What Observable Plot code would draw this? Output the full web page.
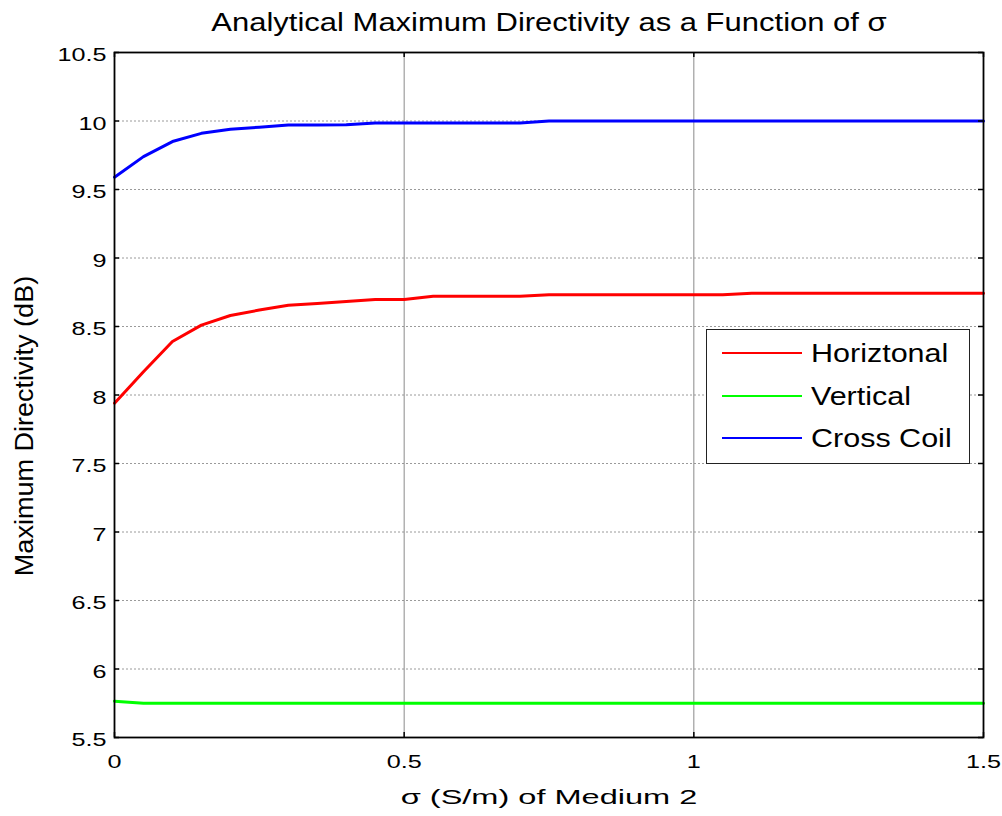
<!DOCTYPE html>
<html>
<head>
<meta charset="utf-8">
<script src="https://cdn.jsdelivr.net/npm/d3@7"></script>
<script src="https://cdn.jsdelivr.net/npm/@observablehq/plot@0.6"></script>
<style>
  html, body { margin: 0; padding: 0; background: #fff; }
  #wrap { position: relative; width: 1002px; height: 816px; font-family: "Liberation Sans", Arial, sans-serif; }
  #legend { position: absolute; left: 706px; top: 329px; width: 264px; height: 135px; box-sizing: border-box;
            border: 1.5px solid #222; background: #fff; }
  #legend .row { position: absolute; left: 0; width: 100%; height: 0; }
  #legend svg { position: absolute; left: 14px; top: -2px; }
  #legend span { position: absolute; left: 104px; top: 0; font-size: 25px; line-height: 25px; color: #000;
                 transform: translateY(-50%) scaleX(1.22); transform-origin: left center; white-space: nowrap; }
</style>
</head>
<body>
<div id="wrap"></div>
<script>
// ---- data ----
const sigma = [0, 0.05, 0.1, 0.15, 0.2, 0.25, 0.3, 0.35, 0.4, 0.45, 0.5, 0.55, 0.6, 0.65, 0.7, 0.75,
               0.8, 0.85, 0.9, 0.95, 1.0, 1.05, 1.1, 1.15, 1.2, 1.25, 1.3, 1.35, 1.4, 1.45, 1.5];
const horizontal = [7.94, 8.17, 8.39, 8.51, 8.58, 8.62, 8.655, 8.668, 8.683, 8.697, 8.697, 8.72, 8.72, 8.72, 8.72, 8.732,
                    8.732, 8.732, 8.732, 8.732, 8.732, 8.732, 8.743, 8.743, 8.743, 8.743, 8.743, 8.743, 8.743, 8.743, 8.743];
const vertical = [5.765, 5.75, 5.75, 5.75, 5.75, 5.75, 5.75, 5.75, 5.75, 5.75, 5.75, 5.75, 5.75, 5.75, 5.75, 5.75,
                  5.75, 5.75, 5.75, 5.75, 5.75, 5.75, 5.75, 5.75, 5.75, 5.75, 5.75, 5.75, 5.75, 5.75, 5.75];
const crossCoil = [9.59, 9.74, 9.85, 9.91, 9.94, 9.955, 9.97, 9.97, 9.972, 9.985, 9.985, 9.985, 9.985, 9.985, 9.985, 10.0,
                   10.0, 10.0, 10.0, 10.0, 10.0, 10.0, 10.0, 10.0, 10.0, 10.0, 10.0, 10.0, 10.0, 10.0, 10.0];
const seriesNames = ["Horiztonal", "Vertical", "Cross Coil"];
const seriesColors = ["#ff0000", "#00ff00", "#0000ff"];
const xTicks = [0, 0.5, 1, 1.5];
const yTicks = [5.5, 6, 6.5, 7, 7.5, 8, 8.5, 9, 9.5, 10, 10.5];
const xGrid = [0.5, 1];
const yGrid = [6, 6.5, 7, 7.5, 8, 8.5, 9, 9.5, 10];
const titleText = "Analytical Maximum Directivity as a Function of σ";
const xLabel = "σ (S/m) of Medium 2";
const yLabel = "Maximum Directivity (dB)";

// ---- layout ----
const W = 1002, H = 816, mL = 114, mR = 19, mT = 52, mB = 79;
const frameW = W - mL - mR, frameH = H - mT - mB;
const tickLen = 5;

const seriesValues = [horizontal, vertical, crossCoil];
const rows = [];
seriesNames.forEach((name, i) => {
  sigma.forEach((s, j) => rows.push({series: name, sigma: s, value: seriesValues[i][j]}));
});

const chart = Plot.plot({
  width: W, height: H,
  marginLeft: mL, marginRight: mR, marginTop: mT, marginBottom: mB,
  style: {fontFamily: "'Liberation Sans', Arial, sans-serif", background: "#fff", color: "#000"},
  x: {domain: [0, 1.5]},
  y: {domain: [5.5, 10.5]},
  color: {domain: seriesNames, range: seriesColors},
  marks: [
    Plot.gridY(yGrid, {stroke: "#9a9a9a", strokeOpacity: 1, strokeDasharray: "2,2", strokeWidth: 1}),
    Plot.gridX(xGrid, {stroke: "#8a8a8a", strokeOpacity: 1, strokeWidth: 1}),
    Plot.line(rows, {x: "sigma", y: "value", z: "series", stroke: "series", strokeWidth: 3}),
    Plot.tickX(xTicks, {x: d => d, insetTop: frameH - tickLen, stroke: "#000", strokeWidth: 1.5}),
    Plot.tickX(xTicks, {x: d => d, insetBottom: frameH - tickLen, stroke: "#000", strokeWidth: 1.5}),
    Plot.tickY(yTicks, {y: d => d, insetRight: frameW - tickLen, stroke: "#000", strokeWidth: 1.5}),
    Plot.tickY(yTicks, {y: d => d, insetLeft: frameW - tickLen, stroke: "#000", strokeWidth: 1.5}),
    Plot.axisX(xTicks, {tickSize: 0, tickPadding: 18, fontSize: 18, label: null, tickFormat: d => String(d)}),
    Plot.axisY(yTicks, {tickSize: 0, tickPadding: 8, dy: 3, fontSize: 18, label: null, tickFormat: d => String(d)}),
    Plot.frame({stroke: "#000", strokeWidth: 1.8}),
    Plot.text([titleText], {text: d => d, frameAnchor: "top", dy: -30, lineAnchor: "middle", fontSize: 25, fill: "#000"}),
    Plot.text([xLabel], {text: d => d, frameAnchor: "bottom", dy: 60, lineAnchor: "middle", fontSize: 21, fill: "#000"}),
    Plot.text([yLabel], {text: d => d, frameAnchor: "left", textAnchor: "middle", dx: -90, dy: 31, rotate: -90,
                         lineAnchor: "middle", fontSize: 26, fill: "#000"})
  ]
});

// horizontal stretch (along the reading direction) of the reference's text
function stretch(t, s) {
  const tr = t.getAttribute("transform") || "";
  let x = t.getAttribute("x"), y = t.getAttribute("y");
  if (x !== null && isFinite(+x)) { t.removeAttribute("x"); } else x = 0;
  if (y !== null && isFinite(+y)) { t.removeAttribute("y"); } else y = 0;
  t.setAttribute("transform", `${tr} translate(${+x || 0},${+y || 0}) scale(${s},1)`);
}
chart.querySelectorAll('g[aria-label="x-axis tick label"] text, g[aria-label="y-axis tick label"] text')
  .forEach(t => stretch(t, 1.4));
chart.querySelectorAll("text").forEach(t => {
  if (t.textContent === titleText) stretch(t, 1.24);
  else if (t.textContent === xLabel) stretch(t, 1.55);
  else if (t.textContent === yLabel) stretch(t, 1.04);
});

const wrap = document.getElementById("wrap");
wrap.appendChild(chart);

// legend
const legend = document.createElement("div");
legend.id = "legend";
const rowY = [23, 65.5, 107.5];
seriesNames.forEach((name, i) => {
  const row = document.createElement("div");
  row.className = "row";
  row.style.top = rowY[i] + "px";
  row.innerHTML = `<svg width="82" height="4"><line x1="1" x2="81" y1="2" y2="2" stroke="${seriesColors[i]}" stroke-width="2.2"/></svg><span>${name}</span>`;
  legend.appendChild(row);
});
wrap.appendChild(legend);
</script>
</body>
</html>
